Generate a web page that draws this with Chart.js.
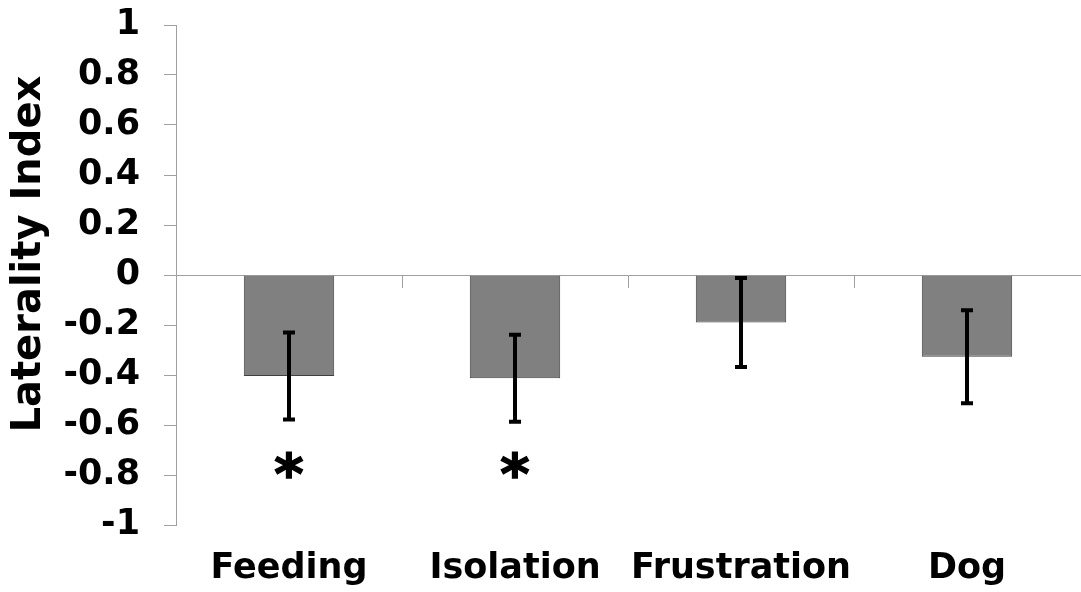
<!DOCTYPE html>
<html>
<head>
<meta charset="utf-8">
<script src="https://cdn.jsdelivr.net/npm/chart.js@4.4.1/dist/chart.umd.min.js"></script>
<style>
  html, body { margin: 0; padding: 0; background: #fff; }
  #wrap { width: 1081px; height: 592px; }
</style>
</head>
<body>
<div id="wrap"><canvas id="lateralityChart"></canvas></div>
<script>
const conditions = ['Feeding', 'Isolation', 'Frustration', 'Dog'];
const meanIndex = [-0.404, -0.413, -0.19, -0.327];
const errorSize = [0.182, 0.182, 0.186, 0.194];
const sigMarks = ['*', '*', '', ''];
const yTicks = [-1, -0.8, -0.6, -0.4, -0.2, 0, 0.2, 0.4, 0.6, 0.8, 1];

const FONT = "'DejaVu Sans', Verdana, sans-serif";
const AXIS_GREY = '#a0a0a0';

// error bars: vertical stem plus short caps, drawn over the bars
const errorBars = {
  id: 'errorBars',
  afterDatasetsDraw(chart) {
    const { ctx, scales: { y } } = chart;
    const bars = chart.getDatasetMeta(0).data;
    ctx.save();
    ctx.strokeStyle = '#000';
    ctx.lineWidth = 4;
    ctx.lineCap = 'butt';
    bars.forEach((bar, i) => {
      const hi = y.getPixelForValue(meanIndex[i] + errorSize[i]);
      const lo = y.getPixelForValue(meanIndex[i] - errorSize[i]);
      ctx.beginPath();
      ctx.moveTo(bar.x, hi);
      ctx.lineTo(bar.x, lo);
      ctx.moveTo(bar.x - 6, hi + 2);
      ctx.lineTo(bar.x + 6, hi + 2);
      ctx.moveTo(bar.x - 6, lo - 2);
      ctx.lineTo(bar.x + 6, lo - 2);
      ctx.stroke();
    });
    ctx.restore();
  }
};

// significance asterisks below the bars
const sigStars = {
  id: 'sigStars',
  afterDatasetsDraw(chart, args, opts) {
    const { ctx, scales: { y } } = chart;
    const bars = chart.getDatasetMeta(0).data;
    ctx.save();
    ctx.fillStyle = '#000';
    ctx.strokeStyle = '#000';
    ctx.lineWidth = 1.5;
    ctx.font = 'bold 56px ' + FONT;
    ctx.textAlign = 'center';
    ctx.textBaseline = 'alphabetic';
    const yc = y.getPixelForValue(opts.level);
    bars.forEach((bar, i) => {
      if (!sigMarks[i]) return;
      const m = ctx.measureText(sigMarks[i]);
      const base = yc + (m.actualBoundingBoxAscent - m.actualBoundingBoxDescent) / 2;
      ctx.fillText(sigMarks[i], bar.x, base);
      ctx.strokeText(sigMarks[i], bar.x, base);
    });
    ctx.restore();
  }
};

const ctx = document.getElementById('lateralityChart').getContext('2d');

new Chart(ctx, {
  type: 'bar',
  data: {
    labels: conditions,
    datasets: [{
      data: meanIndex,
      backgroundColor: '#808080',
      borderColor: '#404040',
      borderWidth: 1,
      barPercentage: 0.4,
      categoryPercentage: 1.0,
      xAxisID: 'x',
    }]
  },
  options: {
    responsive: true,
    maintainAspectRatio: false,
    animation: false,
    layout: { padding: { top: 25, right: 1, bottom: 0, left: 0 } },
    plugins: {
      legend: { display: false },
      tooltip: { enabled: false },
      sigStars: { level: -0.76 },
    },
    scales: {
      // category axis sitting on the zero line, only tick marks
      x: {
        type: 'category',
        position: { y: 0 },
        grid: {
          offset: true,
          drawOnChartArea: false,
          tickLength: 12,
          color: c => (c.type === 'tick' ? AXIS_GREY : 'rgba(0,0,0,0)'),
        },
        border: { color: AXIS_GREY, width: 1 },
        ticks: { display: false },
      },
      // category names along the bottom
      names: {
        type: 'category',
        position: 'bottom',
        grid: { display: false, drawTicks: false },
        border: { display: false },
        ticks: {
          padding: 23,
          color: '#000',
          font: { family: FONT, size: 35, weight: 'bold' },
          maxRotation: 0,
          autoSkip: false,
        },
        afterFit: s => { s.height = 67; },
      },
      y: {
        min: -1,
        max: 1,
        afterBuildTicks: s => { s.ticks = yTicks.map(v => ({ value: v })); },
        ticks: {
          padding: 24,
          color: '#000',
          font: { family: FONT, size: 35, weight: 'bold' },
          callback: v => String(Number(v.toFixed(1))),
        },
        grid: {
          drawOnChartArea: false,
          tickLength: 12,
          color: AXIS_GREY,
        },
        border: { color: AXIS_GREY, width: 1 },
        title: {
          display: true,
          text: '   Laterality Index',
          color: '#000',
          font: { family: FONT, size: 40, weight: 'bold' },
          padding: { top: 6, bottom: 0 },
        },
        afterFit: s => {
          s.width = 176;
          s.paddingTop = 0;
          s.paddingBottom = 0;
        },
      }
    }
  },
  plugins: [errorBars, sigStars]
});
</script>
</body>
</html>
